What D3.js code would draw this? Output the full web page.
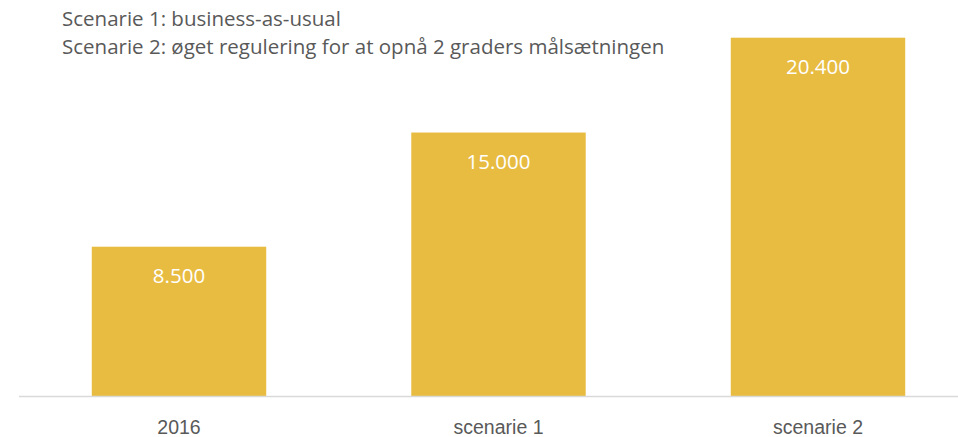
<!DOCTYPE html>
<html>
<head>
<meta charset="utf-8">
<script src="https://cdn.jsdelivr.net/npm/d3@7"></script>
<style>
body { margin: 0; background: #fff; }
svg { display: block; font-family: "Open Sans", sans-serif; }
.note { fill: #595959; font-size: 20.5px; }
.tick text { fill: #595959; font-size: 19.5px; }
.val { fill: #fff; font-size: 20.5px; }
</style>
</head>
<body>
<div id="chart"></div>
<script>
// chart values
var categories = ["2016", "scenarie 1", "scenarie 2"];
var values = [8500, 15000, 20400];
var notes = ["Scenarie 1: business-as-usual",
             "Scenarie 2: øget regulering for at opnå 2 graders målsætningen"];

var width = 958, height = 437;
var baseY = 396;

var svg = d3.select("#chart").append("svg")
  .attr("width", width)
  .attr("height", height);

var x = d3.scaleBand()
  .domain(categories)
  .range([19.25, 977.75])
  .paddingInner(0.454)
  .paddingOuter(0.227);

var y = d3.scaleLinear()
  .domain([0, 20400])
  .range([baseY, 37.7]);

// bars
svg.selectAll(".bar")
  .data(values)
  .enter().append("rect")
  .attr("class", "bar")
  .attr("x", function(d, i){ return x(categories[i]); })
  .attr("y", function(d){ return y(d); })
  .attr("width", x.bandwidth())
  .attr("height", function(d){ return baseY - y(d); })
  .attr("fill", "#e8bc41");

// value labels inside the top of each bar
svg.selectAll(".val")
  .data(values)
  .enter().append("text")
  .attr("class", "val")
  .attr("x", function(d, i){ return x(categories[i]) + x.bandwidth() / 2; })
  .attr("y", function(d){ return y(d) + 36; })
  .attr("text-anchor", "middle")
  .text(function(d){ return d3.format(",")(d).replace(/,/g, "."); });

// category axis
var xAxis = d3.axisBottom(x).tickSize(0).tickPadding(24);
var gx = svg.append("g")
  .attr("transform", "translate(0," + baseY + ")")
  .call(xAxis);
gx.select(".domain").remove();

svg.append("line")
  .attr("x1", 19)
  .attr("x2", width)
  .attr("y1", baseY + 0.5)
  .attr("y2", baseY + 0.5)
  .attr("stroke", "#d9d9d9")
  .attr("stroke-width", 1.5);

// notes top left
svg.selectAll(".note")
  .data(notes)
  .enter().append("text")
  .attr("class", "note")
  .attr("x", 62)
  .attr("y", function(d, i){ return 26 + i * 28; })
  .text(function(d){ return d; });
</script>
</body>
</html>
